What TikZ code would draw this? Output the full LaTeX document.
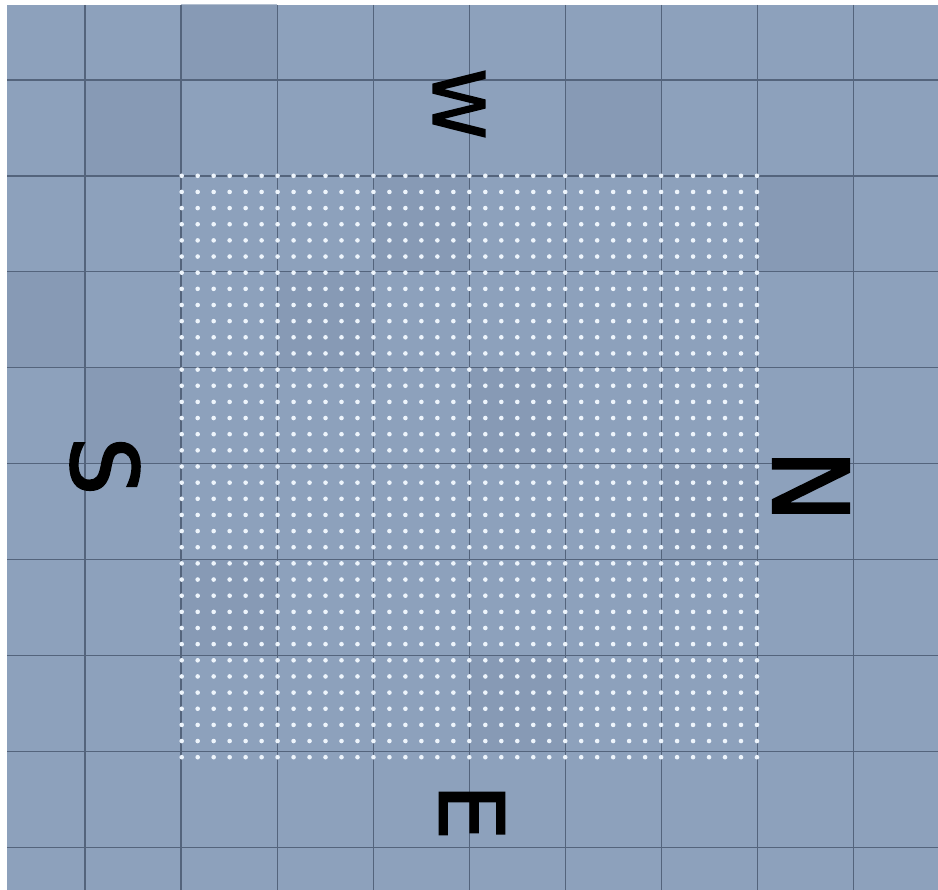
\documentclass[tikz,border=0pt]{standalone}
\usepackage{fontspec}
\newfontfamily\compassfont[FakeBold=2.2]{DejaVu Sans}
\definecolor{tilebg}{RGB}{141,161,188}
\definecolor{tiledark}{RGB}{131,150,177}
\definecolor{tileline}{RGB}{84,100,124}
\definecolor{dotcol}{RGB}{238,245,252}
\tikzset{
  tileline/.style={draw=tileline, line width=1.3pt},
  dotmark/.style={fill=dotcol},
  compass/.style={inner sep=0pt, outer sep=0pt, rotate=-90, text=black},
}
\begin{document}
\begin{tikzpicture}[x=1pt,y=-1pt]
\useasboundingbox (0,0) rectangle (938,890);
\fill[white] (0,0) rectangle (938,890);
\fill[tilebg] (7,5) rectangle (938,890);
% subtle darker tiles
\begin{scope}
\clip (7,5) rectangle (938,890);
\foreach \cx/\cy in {1/1,2/0,4/2,3/3,5/4,1/4,6/1,2/6,7/5,5/7,0/3,8/2}{
  \fill[tiledark, opacity=0.6] ({85+96.1*(\cx-1)},{80+95.9*(\cy-1)}) rectangle ({85+96.1*\cx},{80+95.9*\cy});
}
\end{scope}
% grid lines
\foreach \i in {0,...,8}{
  \draw[tileline] ({85+96.1*\i},5) -- ({85+96.1*\i},890);
  \draw[tileline] (7,{80+95.9*\i}) -- (938,{80+95.9*\i});
}
% dots
\foreach \i in {0,...,36}{
  \foreach \j in {0,...,36}{
    \fill[dotmark] ({181.7+15.98*\i},{175.8+16.15*\j}) circle (2.3);
  }
}
% compass letters
\node[compass, font=\compassfont\fontsize{71}{71}\selectfont] (west) at (459,104) {W};
\node[compass, font=\compassfont\fontsize{92}{92}\selectfont] (south) at (105,466) {S};
\node[compass, font=\compassfont\fontsize{104}{104}\selectfont, xscale=0.93] (north) at (811,486) {N};
\node[compass, font=\compassfont\fontsize{89}{89}\selectfont] (east) at (472,812) {E};
\end{tikzpicture}
\end{document}
